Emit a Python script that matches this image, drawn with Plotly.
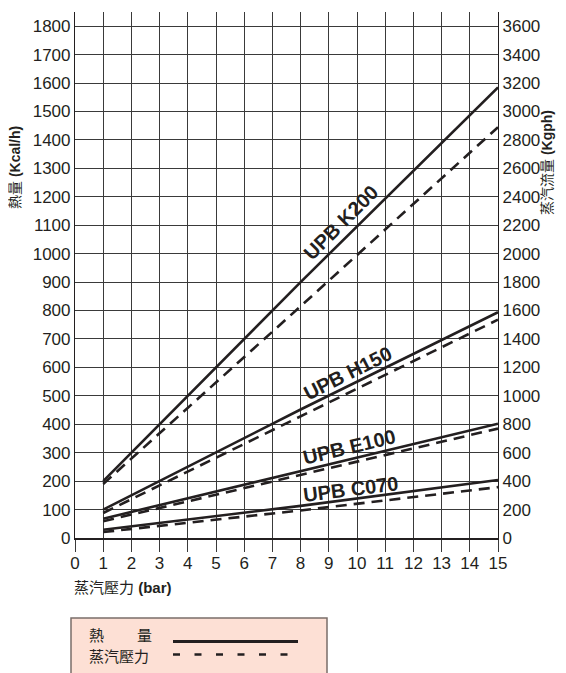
import plotly.graph_objects as go

# Pressure (bar) sample points
pressure = [1, 8, 15]

# Heat (Kcal/h) - solid lines
k200_heat = [200, 900, 1585]
h150_heat = [100, 452, 794]
e100_heat = [68, 235, 402]
c070_heat = [29, 113, 204]

# Steam flow (plotted on heat scale, right axis = 2x) - dashed lines
k200_steam = [190, 815, 1445]
h150_steam = [88, 427, 768]
e100_steam = [59, 221, 385]
c070_steam = [21, 97, 179]

series_names = ["UPB K200", "UPB H150", "UPB E100", "UPB C070"]
x_ticks = list(range(0, 16))
left_ticks = list(range(0, 1900, 100))
right_ticks = list(range(0, 3800, 200))

INK = "#231f20"
GRID = "#3a3a3a"
FONT = "Liberation Sans, Arial, Noto Sans CJK TC, sans-serif"

fig = go.Figure()

for heat, steam in [(k200_heat, k200_steam), (h150_heat, h150_steam),
                    (e100_heat, e100_steam), (c070_heat, c070_steam)]:
    fig.add_trace(go.Scatter(x=pressure, y=heat, mode="lines",
                             line=dict(color=INK, width=2.6), showlegend=False,
                             hoverinfo="skip"))
    fig.add_trace(go.Scatter(x=pressure, y=steam, mode="lines",
                             line=dict(color=INK, width=2.6, dash="11px,7px"),
                             showlegend=False, hoverinfo="skip"))

# invisible trace for the right axis
fig.add_trace(go.Scatter(x=[0], y=[0], yaxis="y2", mode="markers",
                         marker=dict(opacity=0), showlegend=False, hoverinfo="skip"))

# series labels along lines
label_pos = [(9.45, 1111, -45), (9.68, 580, -26.6), (9.72, 320, -13.5), (9.8, 172, -7.2)]
for name, (lx, ly, ang) in zip(series_names, label_pos):
    fig.add_annotation(x=lx, y=ly, xref="x", yref="y", text="<b>%s</b>" % name,
                       showarrow=False, textangle=ang, xanchor="center", yanchor="middle",
                       font=dict(family=FONT, size=20, color=INK))

# page body adds an 8px offset; figure is sized to fill the rest of the window
OFF = 8
W, H = 566 - OFF, 673 - OFF
L, R, T, B = 75 - OFF, 68, 12 - OFF, 135
pw, ph = W - L - R, H - T - B


def px(x):
    return (x - OFF - L) / pw


def py(y):
    return (H - B - (y - OFF)) / ph


def note(x, y, text, size, angle=0, xanchor="center"):
    fig.add_annotation(x=px(x), y=py(y), xref="paper", yref="paper",
                       text=text, textangle=angle, showarrow=False,
                       xanchor=xanchor, yanchor="middle",
                       font=dict(family=FONT, size=size, color=INK))


# axis titles
note(15, 167, "熱量 <b>(Kcal/h)</b>", 14, angle=-90)
note(547, 163, "蒸汽流量 <b>(Kgph)</b>", 14, angle=-90)
note(72, 587, "蒸汽壓力 <b>(bar)</b>", 15, xanchor="left")

# legend box
fig.add_shape(type="rect", xref="paper", yref="paper",
              x0=px(71), x1=px(327), y0=py(618), y1=py(690),
              fillcolor="#fde0d5", line=dict(color="#7a6e6a", width=1.5), layer="above")
note(87, 635, "熱", 15, xanchor="left")
note(135, 635, "量", 15, xanchor="left")
note(87, 657, "蒸汽壓力", 15, xanchor="left")
fig.add_shape(type="line", xref="paper", yref="paper", x0=px(173), x1=px(298),
              y0=py(641.5), y1=py(641.5), line=dict(color=INK, width=3), layer="above")
fig.add_shape(type="line", xref="paper", yref="paper", x0=px(173), x1=px(292),
              y0=py(654.5), y1=py(654.5), line=dict(color=INK, width=2.5, dash="7px,14.5px"),
              layer="above")

fig.update_layout(
    width=W, height=H,
    margin=dict(l=L, r=R, t=T, b=B),
    paper_bgcolor="white", plot_bgcolor="white",
    font=dict(family=FONT, color=INK),
    xaxis=dict(range=[0, 15], tickvals=x_ticks, ticktext=[str(v) for v in x_ticks],
               showgrid=True, gridcolor=GRID, gridwidth=1,
               showline=True, linecolor=INK, linewidth=1.5,
               ticks="outside", ticklen=12, tickcolor=GRID, tickwidth=1,
               ticklabelstandoff=-3,
               tickfont=dict(size=17, color=INK), zeroline=False),
    yaxis=dict(range=[0, 1850], tickvals=left_ticks, ticktext=[str(v) for v in left_ticks],
               showgrid=True, gridcolor=GRID, gridwidth=1,
               showline=True, linecolor=INK, linewidth=1.2,
               ticks="", tickfont=dict(size=17, color=INK), zeroline=False),
    yaxis2=dict(range=[0, 3700], overlaying="y", side="right",
                tickvals=right_ticks, ticktext=[str(v) for v in right_ticks],
                showgrid=False, showline=True, linecolor=INK, linewidth=1.2,
                ticks="", tickfont=dict(size=17, color=INK), zeroline=False),
)

fig.write_html("out.html")
